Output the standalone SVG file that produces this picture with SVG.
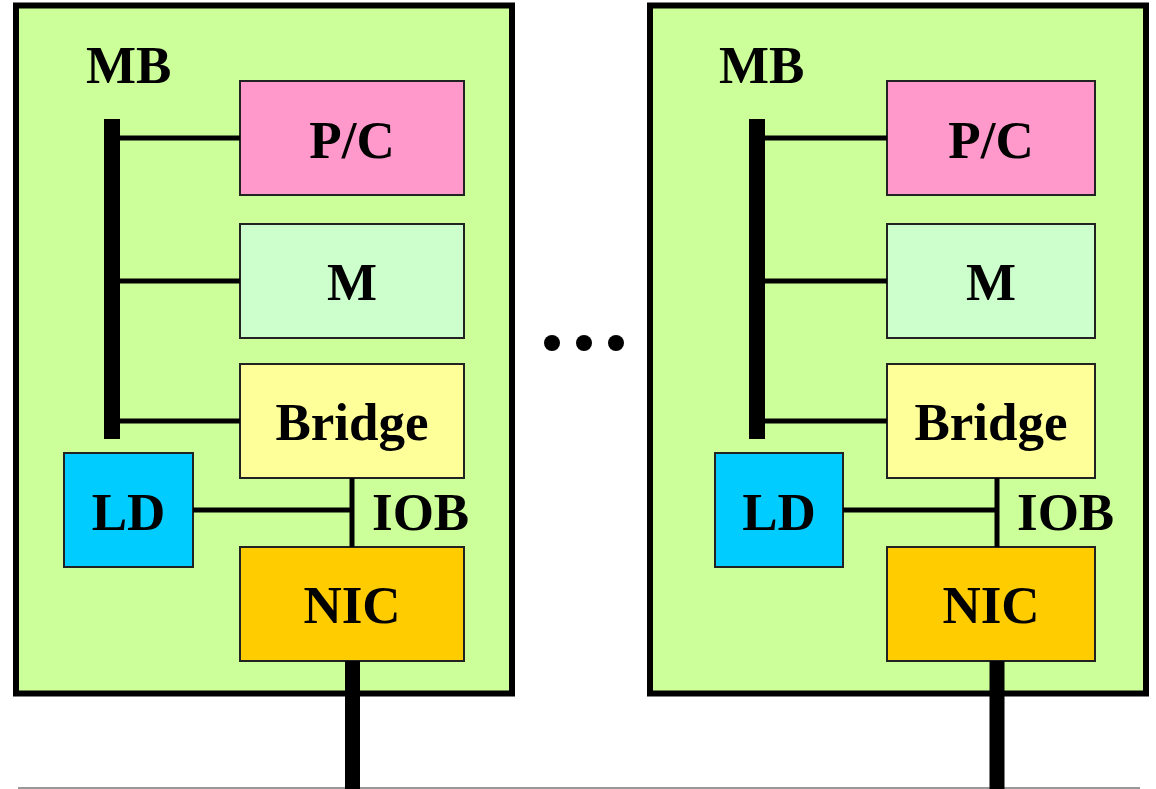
<svg xmlns="http://www.w3.org/2000/svg" width="1156" height="789" viewBox="0 0 1156 789">
<style>
.outer{fill:#CCFF99;stroke:#000;stroke-width:6}
.box{stroke:#222;stroke-width:2}
.pc{fill:#FF99CC}.m{fill:#CCFFCC}.br{fill:#FFFF99}.ld{fill:#00CCFF}.nic{fill:#FFCC00}
.lbl{font-family:"Liberation Serif","Times New Roman",serif;font-weight:bold;font-size:53px;fill:#000}
.c{text-anchor:middle}
.ln{stroke:#000;stroke-width:5;fill:none}
.bus{stroke:#000;stroke-width:16;fill:none}
.net{stroke:#000;stroke-width:15;fill:none}
</style>
<rect x="0" y="0" width="1156" height="789" fill="#fff"/>
<line x1="18" y1="788" x2="1140" y2="788" stroke="#999" stroke-width="2"/>
<g id="node-left">
<rect class="outer" x="16" y="5.5" width="496" height="688"/>
<text class="lbl" x="86" y="83">MB</text>
</g>
<g id="node-right">
<rect class="outer" x="650" y="5.5" width="496" height="688"/>
<text class="lbl" x="719" y="83">MB</text>
</g>
<g id="pc-left"><rect class="box pc" x="240" y="81" width="224" height="114"/><text class="lbl c" x="352" y="158">P/C</text></g>
<g id="m-left"><rect class="box m" x="240" y="224" width="224" height="114"/><text class="lbl c" x="352" y="300">M</text></g>
<g id="bridge-left"><rect class="box br" x="240" y="364" width="224" height="114"/><text class="lbl c" x="352" y="440">Bridge</text></g>
<g id="ld-left"><rect class="box ld" x="64" y="453" width="129" height="114"/><text class="lbl c" x="128.5" y="530">LD</text></g>
<g id="nic-left"><rect class="box nic" x="240" y="547" width="224" height="114"/><text class="lbl c" x="352" y="623">NIC</text></g>
<g id="iob-left"><text class="lbl" x="372" y="530">IOB</text></g>
<g id="pc-right"><rect class="box pc" x="887" y="81" width="208" height="114"/><text class="lbl c" x="991" y="158">P/C</text></g>
<g id="m-right"><rect class="box m" x="887" y="224" width="208" height="114"/><text class="lbl c" x="991" y="300">M</text></g>
<g id="bridge-right"><rect class="box br" x="887" y="364" width="208" height="114"/><text class="lbl c" x="991" y="440">Bridge</text></g>
<g id="ld-right"><rect class="box ld" x="715" y="453" width="128" height="114"/><text class="lbl c" x="779" y="530">LD</text></g>
<g id="nic-right"><rect class="box nic" x="887" y="547" width="208" height="114"/><text class="lbl c" x="991" y="623">NIC</text></g>
<g id="iob-right"><text class="lbl" x="1017" y="530">IOB</text></g>
<g id="dots">
<circle cx="552" cy="343" r="8"/><circle cx="584" cy="343" r="8"/><circle cx="616" cy="343" r="8"/>
</g>
<g id="connectors">
<line class="bus" x1="112" y1="119" x2="112" y2="439"/>
<line class="ln" x1="120" y1="138" x2="240" y2="138"/>
<line class="ln" x1="120" y1="281" x2="240" y2="281"/>
<line class="ln" x1="120" y1="421" x2="240" y2="421"/>
<line class="ln" x1="352" y1="478" x2="352" y2="547"/>
<line class="ln" x1="193" y1="510" x2="352" y2="510"/>
<line class="net" x1="352.5" y1="661" x2="352.5" y2="789"/>
<line class="bus" x1="757" y1="119" x2="757" y2="439"/>
<line class="ln" x1="765" y1="138" x2="887" y2="138"/>
<line class="ln" x1="765" y1="281" x2="887" y2="281"/>
<line class="ln" x1="765" y1="421" x2="887" y2="421"/>
<line class="ln" x1="997" y1="478" x2="997" y2="547"/>
<line class="ln" x1="843" y1="510" x2="997" y2="510"/>
<line class="net" x1="997" y1="661" x2="997" y2="789"/>
</g>
</svg>
